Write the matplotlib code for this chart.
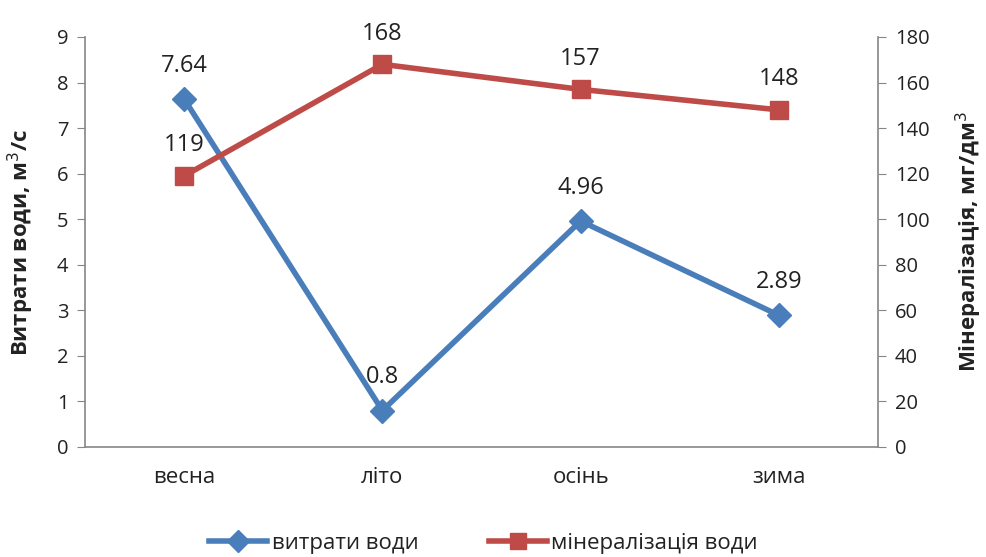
import matplotlib
matplotlib.use("Agg")
import matplotlib.pyplot as plt

categories = ["весна", "літо", "осінь", "зима"]
flow = [7.64, 0.8, 4.96, 2.89]
mineral = [119, 168, 157, 148]
flow_labels = ["7.64", "0.8", "4.96", "2.89"]
mineral_labels = ["119", "168", "157", "148"]

plt.rcParams['font.family'] = ['Open Sans', 'DejaVu Sans']

blue = "#4A7EBB"
red = "#BE4B48"
gray = "#868686"
txt = "#222222"

fig = plt.figure(figsize=(9.87, 5.57), dpi=100)
ax = fig.add_axes([0.0861, 0.1975, 0.8035, 0.7361])
ax2 = ax.twinx()

x = list(range(len(categories)))
ax.plot(x, flow, color=blue, lw=4, marker="D", ms=12, mfc=blue, mec=blue, zorder=3)
ax2.plot(x, mineral, color=red, lw=4, marker="s", ms=13, mfc=red, mec=red, zorder=3)

for xi, v, t in zip(x, flow, flow_labels):
    ax.annotate(t, (xi, v), xytext=(0, 24), textcoords="offset points",
                ha="center", va="center", fontsize=17, color=txt)
for xi, v, t in zip(x, mineral, mineral_labels):
    ax2.annotate(t, (xi, v), xytext=(0, 22), textcoords="offset points",
                 ha="center", va="center", fontsize=17, color=txt)

ax.set_xlim(-0.5, len(categories) - 0.5)
ax.set_ylim(0, 9)
ax2.set_ylim(0, 180)
ax.set_yticks(range(0, 10))
ax2.set_yticks(range(0, 181, 20))
ax.set_xticks(x)
ax.set_xticklabels(categories)

for a in (ax, ax2):
    for s in a.spines.values():
        s.set_color(gray)
        s.set_linewidth(1.2)
    a.spines['top'].set_visible(False)
ax2.spines['bottom'].set_visible(False)
ax2.spines['left'].set_visible(False)
ax.spines['right'].set_visible(False)

ax.tick_params(axis='y', direction='out', length=6, color=gray, labelsize=14.5, pad=6, labelcolor=txt)
ax2.tick_params(axis='y', direction='out', length=6, color=gray, labelsize=14.5, pad=6, labelcolor=txt)
ax.tick_params(axis='x', length=0, labelsize=16, pad=22, labelcolor=txt)
for lab in ax.get_xticklabels():
    lab.set_va("center")

ax.set_ylabel("Витрати води, м$^3$/с", fontsize=16, fontweight="bold", color=txt)
ax2.set_ylabel("Мінералізація, мг/дм$^3$", fontsize=16, fontweight="bold", color=txt)
ax.yaxis.set_label_coords(-0.062, 0.5)
ax2.yaxis.set_label_coords(1.096, 0.5)

ax2.set_zorder(ax.get_zorder() + 1)
ax.patch.set_visible(True)
ax2.patch.set_visible(False)

h1, = ax.plot([], [], color=blue, lw=4, marker="D", ms=11)
h2, = ax.plot([], [], color=red, lw=4, marker="s", ms=12)
fig.legend([h1, h2], ["витрати води", "мінералізація води"], loc="center",
           bbox_to_anchor=(0.49, 0.025), ncol=2, frameon=False, fontsize=16,
           handlelength=2.6, columnspacing=3.2, handletextpad=0.2, labelcolor=txt)

fig.savefig("out.png", dpi=100)
